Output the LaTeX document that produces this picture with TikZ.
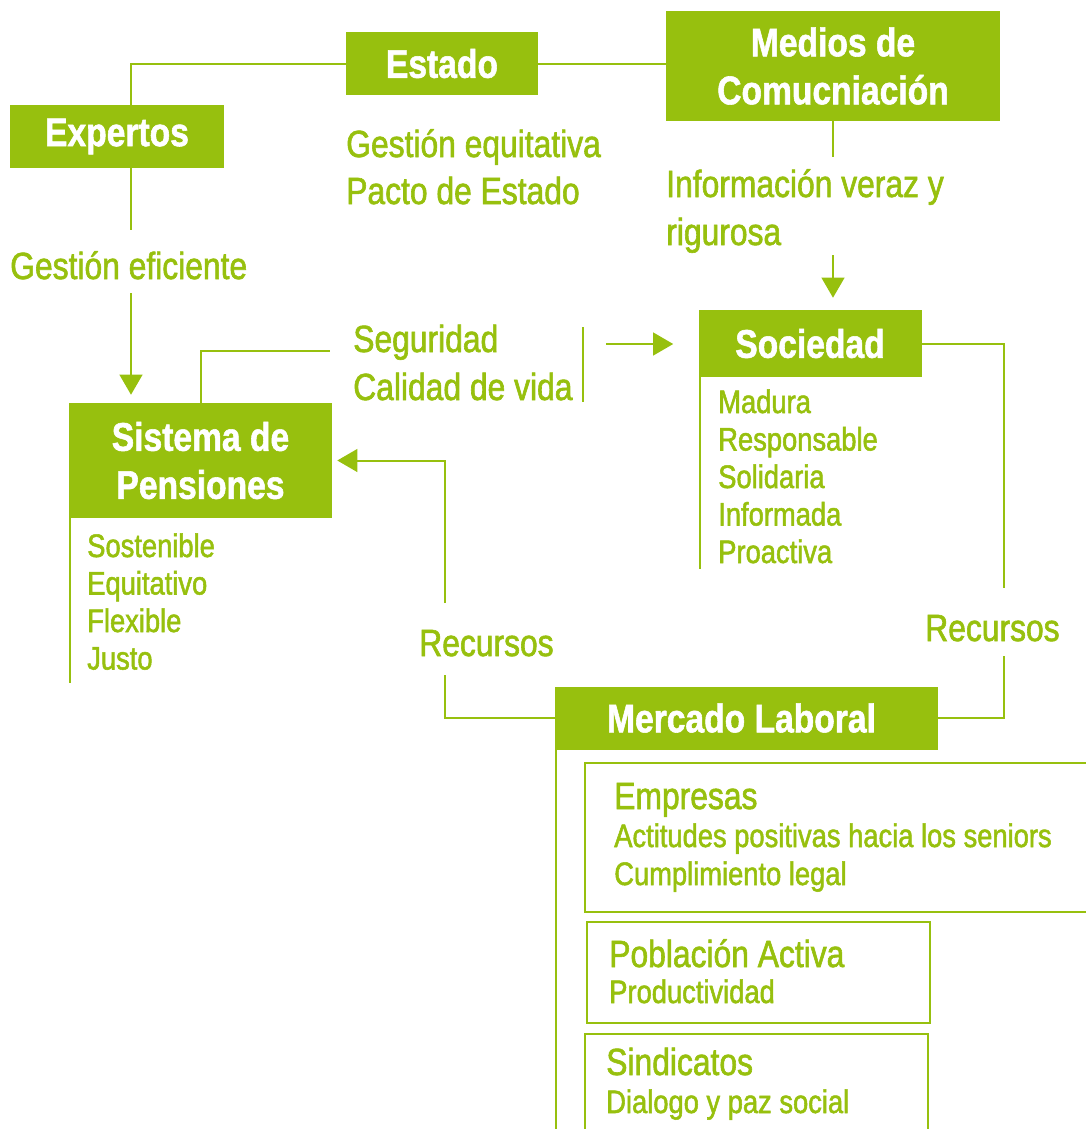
\documentclass[tikz,border=0pt]{standalone}
\usepackage{fontspec}
\setmainfont{Liberation Sans}[FakeStretch=0.84, UprightFeatures={FakeBold=1.6}, BoldFeatures={FakeBold=1.4}]
\usetikzlibrary{arrows.meta}
\definecolor{verde}{RGB}{151,192,14}
\tikzset{
  caja/.style={fill=verde, text=white, font=\bfseries\fontsize{30}{36}\selectfont, align=center, inner sep=0pt},
  texto/.style={text=verde, font=\fontsize{28.4}{34}\selectfont, anchor=base west, inner sep=0pt},
  item/.style={text=verde, font=\fontsize{24.4}{28}\selectfont, anchor=base west, inner sep=0pt},
  linea/.style={draw=verde, line width=1.5pt},
  flecha/.style={linea, -{Triangle[length=15pt, width=17pt]}},
  marco/.style={draw=verde, line width=2pt}
}
\begin{document}
\begin{tikzpicture}[x=0.75pt,y=0.75pt,yscale=-1,xscale=1]
\useasboundingbox (0,0) rectangle (1086,1129);

% Boxes
\node [caja, minimum width=144pt, minimum height=47.25pt] (estado) at (442,63.5) {Estado};
\node [caja, minimum width=250.5pt, minimum height=82.5pt] (medios) at (833,66) {Medios de\\Comucniación};
\node [caja, minimum width=160.5pt, minimum height=47.25pt] (expertos) at (117,136.5) {Expertos};
\node [caja, minimum width=167.25pt, minimum height=50.25pt] (sociedad) at (810,343.5) {Sociedad};
\node [caja, minimum width=197.25pt, minimum height=86.25pt] (sistema) at (200.5,460.5) {Sistema de\\Pensiones};
\node [caja, minimum width=287.25pt, minimum height=47.25pt] (mercado) at (746.5,718) {Mercado Laboral\hspace*{7.5pt}};

% Free ends
\coordinate (finexp) at (131,230);
\coordinate (iniexp) at (131,293);
\coordinate (finmed) at (833,157);
\coordinate (inimed) at (833,255);
\coordinate (finseg) at (330,351);
\coordinate (barraa) at (583,327);
\coordinate (barrab) at (583,402);
\coordinate (iniseg) at (606,344);
\coordinate (finsoc) at (1004,588);
\coordinate (inirecd) at (1004,656);
\coordinate (finreci) at (445,675);
\coordinate (inireci) at (445,603);
\coordinate (finsis) at (70,683);
\coordinate (finsoclista) at (700,569);
\coordinate (finmer) at (556,1140);

%Straight Lines
\draw [linea] (finexp |- expertos.north) |- (estado.west);
\draw [linea] (estado.east) -- (estado.east -| medios.west);
\draw [linea] (finexp |- expertos.south) -- (finexp);
\draw [flecha, shorten >=6pt] (iniexp) -- (iniexp |- sistema.north);
\draw [linea] (finmed |- medios.south) -- (finmed);
\draw [flecha, shorten >=9pt] (inimed) -- (inimed |- sociedad.north);
\draw [linea] (sistema.north) |- (finseg);
\draw [linea] (barraa) -- (barrab);
\draw [flecha, shorten >=18.75pt] (iniseg) -- (iniseg -| sociedad.west);
\draw [linea] (sociedad.east) -| (finsoc);
\draw [linea] (inirecd) |- (mercado.east);
\draw [linea] (mercado.west) -| (finreci);
\draw [flecha, shorten >=3.75pt] (inireci) |- (sistema.east);
\draw [linea] (finsis |- sistema.south) -- (finsis);
\draw [linea] (finsoclista |- sociedad.south) -- (finsoclista);
\draw [linea] (finmer |- mercado.south) -- (finmer);

%Frames
\draw [marco] (585,763) rectangle (1100,912);
\draw [marco] (587,922) rectangle (930,1023);
\draw [marco] (585,1034) rectangle (928,1140);

% Text Node
\node [texto] (eficiente) at (10,279) {Gestión eficiente};
\node [texto] (equitativa) at (346,157) {Gestión equitativa};
\node [texto] (pacto) at (346,204) {Pacto de Estado};
\node [texto] (veraz) at (666,197) {Información veraz y};
\node [texto] (rigurosa) at (666,245) {rigurosa};
\node [texto] (seguridad) at (353,352) {Seguridad};
\node [texto] (calidad) at (353,400) {Calidad de vida};
\node [texto] (recursosi) at (419,656) {Recursos};
\node [texto] (recursosd) at (925,641) {Recursos};
% Text Node
\node [item] (sostenible) at (87,557) {Sostenible};
\node [item] (equitativo) at (87,594.5) {Equitativo};
\node [item] (flexible) at (87,632) {Flexible};
\node [item] (justo) at (87,669.5) {Justo};
% Text Node
\node [item] (madura) at (718,413) {Madura};
\node [item] (responsable) at (718,450.5) {Responsable};
\node [item] (solidaria) at (718,488) {Solidaria};
\node [item] (informada) at (718,525.5) {Informada};
\node [item] (proactiva) at (718,563) {Proactiva};
% Text Node
\node [texto] (empresas) at (614,809) {Empresas};
\node [item] (actitudes) at (614,847) {Actitudes positivas hacia los seniors};
\node [item] (cumplimiento) at (614,885) {Cumplimiento legal};
\node [texto] (poblacion) at (609,967) {Población Activa};
\node [item] (productividad) at (609,1003) {Productividad};
\node [texto] (sindicatos) at (606,1075) {Sindicatos};
\node [item] (dialogo) at (606,1113) {Dialogo y paz social};

\end{tikzpicture}
\end{document}
